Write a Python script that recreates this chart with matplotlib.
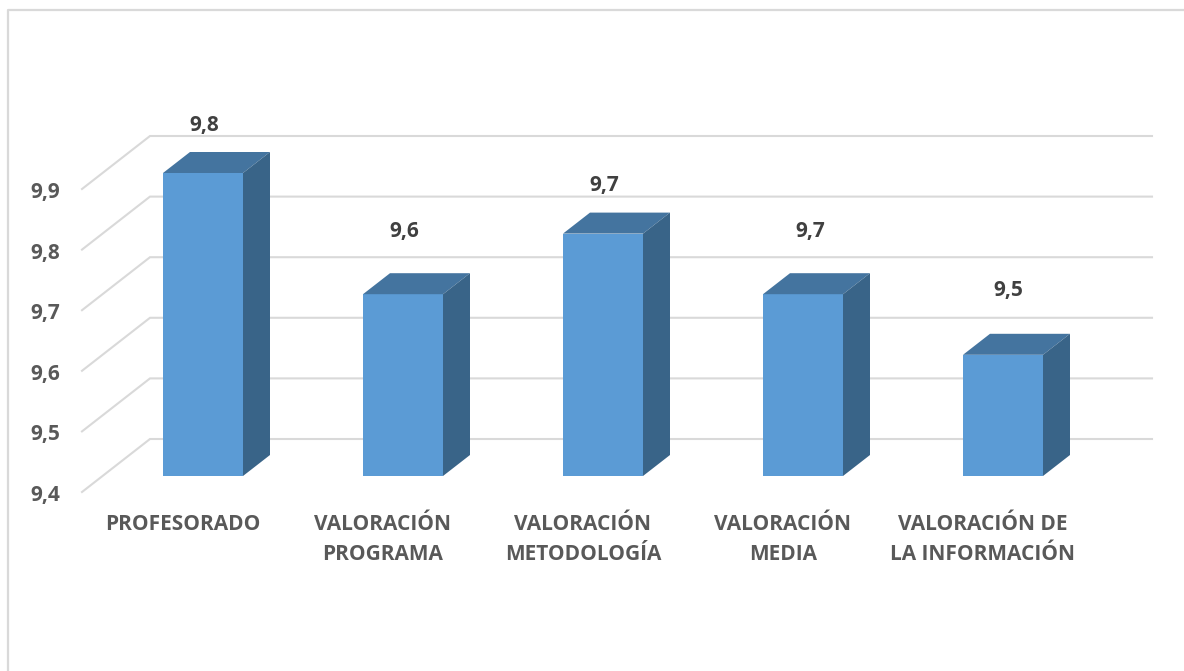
import matplotlib
matplotlib.use('Agg')
import matplotlib.pyplot as plt
from matplotlib.patches import Polygon

categorias = ['PROFESORADO', 'VALORACIÓN\nPROGRAMA', 'VALORACIÓN\nMETODOLOGÍA',
              'VALORACIÓN\nMEDIA', 'VALORACIÓN DE\nLA INFORMACIÓN']
alturas = [9.9, 9.7, 9.8, 9.7, 9.6]
etiquetas = ['9,8', '9,6', '9,7', '9,7', '9,5']
ticks = [9.4, 9.5, 9.6, 9.7, 9.8, 9.9]
tick_labels = ['9,4', '9,5', '9,6', '9,7', '9,8', '9,9']

W, H = 1184, 671
PX_X = 200.0            # pixeles por categoria
PX_Y = 606.0            # pixeles por unidad del eje
X0, Y0 = 203.0, 476.0   # pixel de la categoria 0 y del valor 9.4


def dx(px):
    return px / PX_X


def dy(px):
    return px / PX_Y


plt.rcParams['font.family'] = ['Open Sans', 'DejaVu Sans']

fig = plt.figure(figsize=(W / 100, H / 100), dpi=100)
ax = fig.add_axes([0, 0, 1, 1])
ax.set_xlim(-X0 / PX_X, (W - X0) / PX_X)
ax.set_ylim(9.4 - (H - Y0) / PX_Y, 9.4 + Y0 / PX_Y)
ax.axis('off')

# marco: solo arriba y a la izquierda, el resto queda recortado
x_marco, y_marco = dx(8 - X0), 9.4 + dy(Y0 - 10)
ax.plot([x_marco, x_marco, dx(W - X0)], [9.4 - dy(H - Y0), y_marco, y_marco],
        color='#d9d9d9', lw=1.6, zorder=1)

# rejilla: lateral y pared del fondo
x_front, x_back, x_end = dx(82 - X0), dx(150 - X0), dx(1152 - X0)
for t, lab in zip(ticks, tick_labels):
    ax.plot([x_front, x_back, x_end], [t - dy(16), t + dy(37), t + dy(37)],
            color='#d9d9d9', lw=1.5, zorder=2, solid_joinstyle='miter')
    ax.text(dx(45 - X0), t - dy(19.5), lab, ha='center', va='center',
            fontsize=15, fontweight='bold', color='#595959')

# las etiquetas de datos no van a la misma distancia de cada barra
sep_etiqueta = [47, 63, 48, 63, 64]
x_etiqueta = [1, 1, 1, 7, 5]

# barras en falso 3D
bw, d_x, d_y = dx(80), dx(27), dy(21)
for i, (v, et) in enumerate(zip(alturas, etiquetas)):
    l, r = i - bw / 2, i + bw / 2
    ax.add_patch(Polygon([(l, 9.4), (r, 9.4), (r, v), (l, v)], fc='#5b9bd5', ec='none', zorder=3))
    ax.add_patch(Polygon([(l, v), (r, v), (r + d_x, v + d_y), (l + d_x, v + d_y)],
                         fc='#44749f', ec='none', zorder=3))
    ax.add_patch(Polygon([(r, 9.4), (r + d_x, 9.4 + d_y), (r + d_x, v + d_y), (r, v)],
                         fc='#396488', ec='none', zorder=3))
    ax.text(i + dx(x_etiqueta[i]), v + dy(sep_etiqueta[i]), et, ha='center', va='center',
            fontsize=15, fontweight='bold', color='#404040')
    ax.text(i - dx(20), 9.4 - dy(38), categorias[i], ha='center', va='top',
            fontsize=15, fontweight='bold', color='#595959', linespacing=1.55)

fig.savefig('out.png', dpi=100, facecolor='white')
